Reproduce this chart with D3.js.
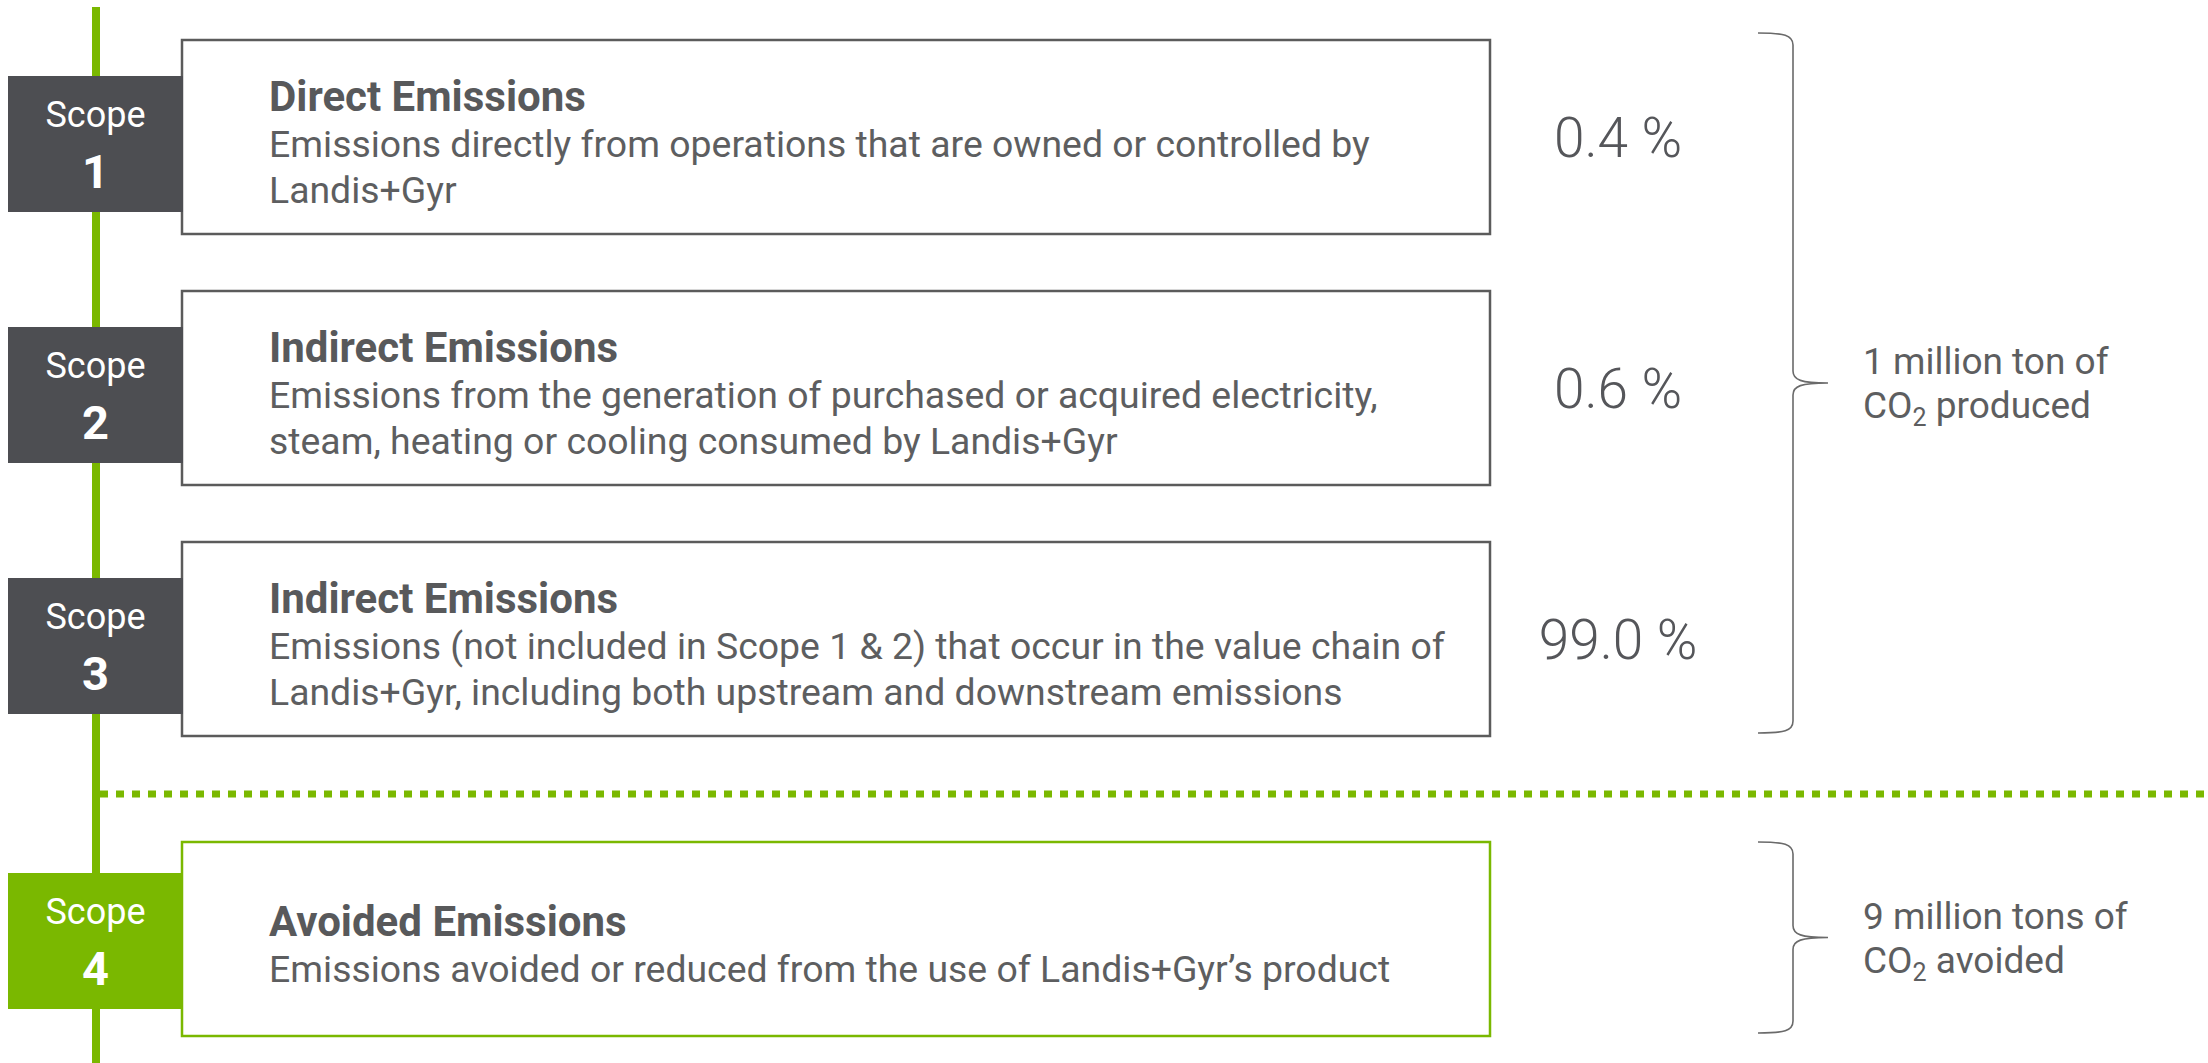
<!DOCTYPE html>
<html>
    <head>
        <meta charset="utf-8" />
        <title>Scopes of emissions</title>
        <script src="https://d3js.org/d3.v7.min.js"></script>
        <style>
         body { margin: 0; background: #fff; }
         svg text { font-family: Roboto, "Noto Sans", sans-serif; }
         .title { font-weight: 700; font-size: 42px; fill: #58595b; }
         .desc { font-size: 37.4px; fill: #5d5e60; }
         .tab-word { font-size: 36px; fill: #fff; }
         .tab-num { font-size: 47px; font-weight: 700; fill: #fff; }
         .share { font-size: 55px; font-weight: 300; fill: #55565a; }
         .note { font-size: 37px; fill: #5d5e60; }
         .box { fill: #fff; stroke: #5b5b5b; stroke-width: 2.5px; }
         .box--green { stroke: #7ab800; }
         .brace { fill: none; stroke: #6a6a6a; stroke-width: 1.6px; }
        </style>
    </head>
    <body>
        <svg id="chart" width="2208" height="1063"></svg>
        <script>

         // data
         var scopes = [1, 2, 3, 4];
         var titles = ["Direct Emissions", "Indirect Emissions", "Indirect Emissions", "Avoided Emissions"];
         var descriptions = [
             ["Emissions directly from operations that are owned or controlled by", "Landis+Gyr"],
             ["Emissions from the generation of purchased or acquired electricity,", "steam, heating or cooling consumed by Landis+Gyr"],
             ["Emissions (not included in Scope 1 & 2) that occur in the value chain of", "Landis+Gyr, including both upstream and downstream emissions"],
             ["Emissions avoided or reduced from the use of Landis+Gyr\u2019s product"]
         ];
         var shares = [0.4, 0.6, 99.0];          // % of produced CO2, scopes 1-3
         var braceGroups = [[1, 3], [4, 4]];     // which scopes each brace covers
         var braceNotes = [
             ["1 million ton of", "CO|2| produced"],
             ["9 million tons of", "CO|2| avoided"]
         ];

         var green = "#7ab800",
             dark = "#4d4e52";

         var svg = d3.select("#chart");

         // row position: the first three are evenly spaced, scope 4 sits below the divider
         var rowY = d3.scaleLinear().domain([1, 3]).range([40, 542]);
         var dividerGap = 49;
         function boxTop(s) { return rowY(s) + (s === 4 ? dividerGap : 0); }
         var boxH = 194;

         var boxX0 = 182, boxX1 = 1490,
             tabX0 = 8, tabX1 = 183,
             spineX = 96,
             shareX = 1618;

         // vertical green spine
         svg.append("line")
            .attr("x1", spineX).attr("x2", spineX)
            .attr("y1", 7).attr("y2", 1063)
            .attr("stroke", green)
            .attr("stroke-width", 8);

         // dotted divider between produced and avoided
         var divY = (boxTop(3) + boxH + boxTop(4)) / 2 + 5;
         svg.append("line")
            .attr("x1", spineX + 4).attr("x2", 2208)
            .attr("y1", divY).attr("y2", divY)
            .attr("stroke", green)
            .attr("stroke-width", 7)
            .attr("stroke-dasharray", "8,8");

         var rows = svg.selectAll(".row")
                       .data(scopes)
                       .enter().append("g")
                       .attr("class", "row")
                       .attr("transform", function(d) { return "translate(0," + boxTop(d) + ")"; });

         rows.append("rect")
             .attr("class", function(d) { return d === 4 ? "box box--green" : "box"; })
             .attr("x", boxX0)
             .attr("y", 0)
             .attr("width", boxX1 - boxX0)
             .attr("height", boxH);

         // scope tab
         rows.append("rect")
             .attr("x", tabX0)
             .attr("y", function(d) { return d === 4 ? 31 : 36; })
             .attr("width", tabX1 - tabX0)
             .attr("height", 136)
             .attr("fill", function(d) { return d === 4 ? green : dark; });

         rows.append("text")
             .attr("class", "tab-word")
             .attr("x", (tabX0 + tabX1) / 2)
             .attr("y", function(d) { return (d === 4 ? 31 : 36) + 51; })
             .attr("text-anchor", "middle")
             .text("Scope");

         rows.append("text")
             .attr("class", "tab-num")
             .attr("x", (tabX0 + tabX1) / 2)
             .attr("y", function(d) { return (d === 4 ? 31 : 36) + 112; })
             .attr("text-anchor", "middle")
             .text(function(d) { return d; });

         // title + description, block centred on the box
         var lineH = 46;
         rows.each(function(d, i) {
             var lines = [titles[i]].concat(descriptions[i]);
             var mid = boxH / 2 + 20;
             var n = lines.length;
             d3.select(this).selectAll(".txt")
               .data(lines)
               .enter().append("text")
               .attr("class", function(t, j) { return j === 0 ? "txt title" : "txt desc"; })
               .attr("x", 269)
               .attr("y", function(t, j) { return mid + (j - (n - 1) / 2) * lineH; })
               .text(function(t) { return t; });
         });

         // shares
         var fmt = d3.format(".1f");
         rows.filter(function(d) { return d <= shares.length; })
             .append("text")
             .attr("class", "share")
             .attr("x", shareX)
             .attr("y", boxH / 2 + 20)
             .attr("text-anchor", "middle")
             .text(function(d) { return fmt(shares[d - 1]) + " %"; });

         // braces
         var bx0 = 1758, bxs = 1793, bxt = 1828;
         function bracePath(y0, y1) {
             var ym = (y0 + y1) / 2, p = d3.path();
             p.moveTo(bx0, y0);
             p.bezierCurveTo(bx0 + 26, y0, bxs, y0 + 2, bxs, y0 + 12);
             p.lineTo(bxs, ym - 12);
             p.bezierCurveTo(bxs, ym - 3, bxs + 8, ym, bxt, ym);
             p.bezierCurveTo(bxs + 8, ym, bxs, ym + 3, bxs, ym + 12);
             p.lineTo(bxs, y1 - 12);
             p.bezierCurveTo(bxs, y1 - 2, bx0 + 26, y1, bx0, y1);
             return p.toString();
         }

         var braces = svg.selectAll(".brace-g")
                         .data(braceGroups)
                         .enter().append("g")
                         .attr("class", "brace-g");

         braces.append("path")
               .attr("class", "brace")
               .attr("d", function(g) {
                   var y0 = boxTop(g[0]) - (g[0] === 4 ? 0 : 7),
                       y1 = boxTop(g[1]) + boxH - 3;
                   return bracePath(y0, y1);
               });

         braces.each(function(g, i) {
             var y0 = boxTop(g[0]) - (g[0] === 4 ? 0 : 7),
                 y1 = boxTop(g[1]) + boxH - 3,
                 ym = (y0 + y1) / 2;
             var sel = d3.select(this);
             braceNotes[i].forEach(function(line, j) {
                 var t = sel.append("text")
                            .attr("class", "note")
                            .attr("x", 1863)
                            .attr("y", ym + 13 + (j - 0.5) * 44);
                 // "|" marks a subscript part
                 line.split("|").forEach(function(part, k) {
                     var sp = t.append("tspan").text(part);
                     if (k === 1) sp.attr("dy", 8).style("font-size", "25px");
                     if (k === 2) sp.attr("dy", -8);
                 });
             });
         });

        </script>
    </body>
</html>
